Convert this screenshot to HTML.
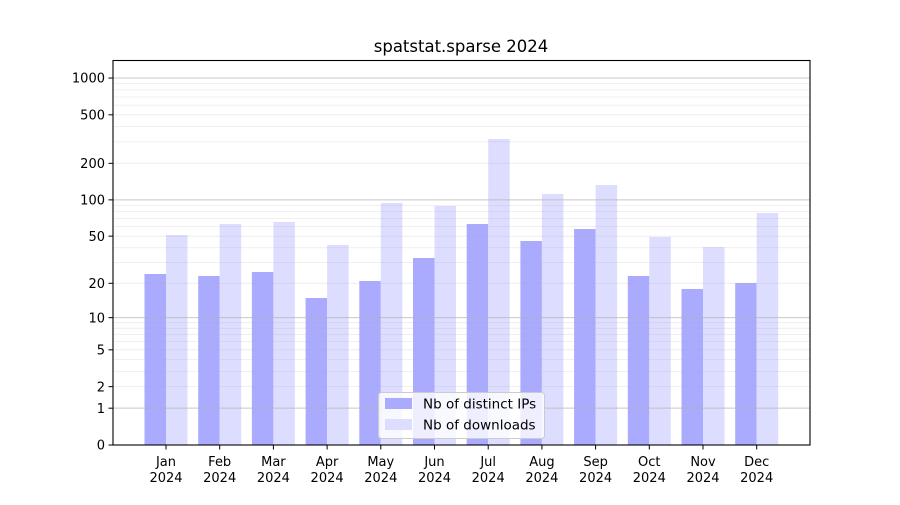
<!DOCTYPE html>
<html><head><meta charset="utf-8"><style>
body{margin:0;background:#fff;}
svg text{font-family:"DejaVu Sans","Liberation Sans",sans-serif;fill:#000;}
</style></head><body>
<svg id="s" width="900" height="500" xmlns="http://www.w3.org/2000/svg">
<rect width="900" height="500" fill="#fff"/>
<g id="bars"></g>
<g id="grid"></g>
<g id="ticks"></g>
<rect x="113" y="60.5" width="697" height="384.5" fill="none" stroke="#000" stroke-width="1.1"/>
<text x="461" y="52" font-size="16.5" text-anchor="middle">spatstat.sparse 2024</text>
<rect x="378.5" y="392.5" width="166" height="46" rx="3" fill="#fff" fill-opacity="0.8" stroke="#ccc" stroke-width="1"/>
<rect x="385" y="398" width="27" height="11" fill="#aaaaff"/>
<rect x="385" y="419" width="27" height="11" fill="#ddddff"/>
<text x="423" y="408.5" font-size="13.5">Nb of distinct IPs</text>
<text x="423" y="429.5" font-size="13.5">Nb of downloads</text>
</svg>
<script>
var ns="http://www.w3.org/2000/svg";
function Y(v){return 445-122.3*Math.log10(1+v);}
function el(p,t,a){var e=document.createElementNS(ns,t);for(var k in a)e.setAttribute(k,a[k]);document.getElementById(p).appendChild(e);return e;}
var months=["Jan","Feb","Mar","Apr","May","Jun","Jul","Aug","Sep","Oct","Nov","Dec"];
var dark=[274,276,272,298,281,258,224,241,229,276,289,283];
var light=[235,224,222,245,203,206,139,194,185,237,247,213];
for(var i=0;i<12;i++){
 var c=166+i*53.7;
 el("bars","rect",{x:c-21.5,y:dark[i],width:21.5,height:445-dark[i],fill:"#aaaaff"});
 el("bars","rect",{x:c,y:light[i],width:21.5,height:445-light[i],fill:"#ddddff"});
 el("ticks","line",{x1:c,x2:c,y1:445,y2:449.5,stroke:"#000","stroke-width":1});
 var t=el("ticks","text",{x:c,y:466,"font-size":13,"text-anchor":"middle"});t.textContent=months[i];
 t=el("ticks","text",{x:c,y:482,"font-size":13,"text-anchor":"middle"});t.textContent="2024";
}
[1,10,100,1000].forEach(function(d){
 el("grid","line",{x1:113,x2:810,y1:Y(d),y2:Y(d),stroke:"#b0b0b0","stroke-opacity":0.7,"stroke-width":1});
 for(var m=2;m<10;m++){var v=d*m;var y=Y(v);if(y<61)continue;
  el("grid","line",{x1:113,x2:810,y1:y,y2:y,stroke:"#b0b0b0","stroke-opacity":0.25,"stroke-width":0.8});}
});
[0,1,2,5,10,20,50,100,200,500,1000].forEach(function(v){
 var y=Y(v);
 el("ticks","line",{x1:108.5,x2:113,y1:y,y2:y,stroke:"#000","stroke-width":1});
 var t=el("ticks","text",{x:105,y:y+4.7,"font-size":13,"text-anchor":"end"});t.textContent=v;
});
</script>
</body></html>
